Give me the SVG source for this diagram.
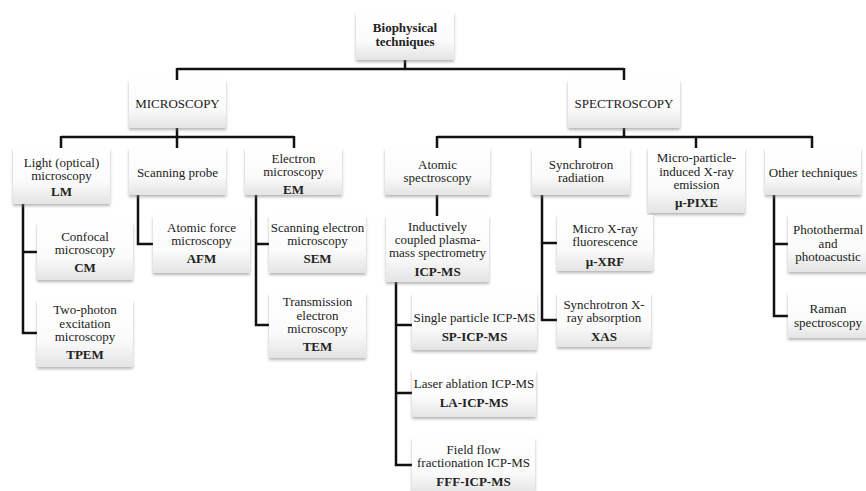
<svg xmlns="http://www.w3.org/2000/svg" width="866" height="491" viewBox="0 0 866 491" font-family="'Liberation Serif', Tinos, 'Times New Roman', 'Nimbus Roman', 'DejaVu Serif', serif">
<defs>
<linearGradient id="g" x1="0" y1="0" x2="0" y2="1">
<stop offset="0" stop-color="#ffffff"/>
<stop offset="0.6" stop-color="#fbfbfb"/>
<stop offset="1" stop-color="#e4e4e4"/>
</linearGradient>
<filter id="sh" x="-10%" y="-10%" width="120%" height="130%">
<feDropShadow dx="0" dy="2" stdDeviation="1.5" flood-color="#777" flood-opacity="0.55"/>
</filter>
</defs>
<style>
rect.b{fill:url(#g);filter:url(#sh)}
text{font-size:13px;fill:#222;text-anchor:middle}
.bd{font-weight:bold}
.c{fill:none;stroke:#111;stroke-width:2.5}
</style>
<rect width="866" height="491" fill="#fff"/>
<g id="connectors">
<path class="c" d="M405,60V69M177,69H624M177,68V80M624,68V80"/>
<path class="c" d="M177,128V137M61,137H294M61,136V148M177,136V148M294,136V148"/>
<path class="c" d="M624,128V137M437,137H812M437,136V148M580,136V148M696,136V148M812,136V148"/>
<path class="c" d="M23,204V333H37M23,252H37"/>
<path class="c" d="M138,195V244H153"/>
<path class="c" d="M256,195V325H269M256,244H269"/>
<path class="c" d="M437,195V216"/>
<path class="c" d="M396,282V465H412M396,325H412M396,393H412"/>
<path class="c" d="M542,195V320H557M542,243H557"/>
<path class="c" d="M774,195V316H788M774,244H788"/>
</g>
<g id="root"><rect class="b" x="356" y="12" width="98" height="48"/><text class="bd" x="405" y="32">Biophysical</text><text class="bd" x="405" y="46">techniques</text></g>
<g id="microscopy"><rect class="b" x="129" y="80" width="97" height="48"/><text x="177.5" y="108">MICROSCOPY</text></g>
<g id="spectroscopy"><rect class="b" x="568" y="80" width="112" height="48"/><text x="624" y="108">SPECTROSCOPY</text></g>
<g id="lm"><rect class="b" x="13" y="148" width="97" height="56"/><text x="61.5" y="167">Light (optical)</text><text x="61.5" y="180">microscopy</text><text class="bd" x="61.5" y="196">LM</text></g>
<g id="scanning-probe"><rect class="b" x="129" y="148" width="97" height="47"/><text x="177.5" y="177">Scanning probe</text></g>
<g id="em"><rect class="b" x="245" y="148" width="97" height="47"/><text x="293.5" y="163">Electron</text><text x="293.5" y="176">microscopy</text><text class="bd" x="293.5" y="194">EM</text></g>
<g id="atomic"><rect class="b" x="385" y="148" width="105" height="47"/><text x="437.5" y="169">Atomic</text><text x="437.5" y="182">spectroscopy</text></g>
<g id="synchrotron"><rect class="b" x="532" y="148" width="98" height="47"/><text x="581" y="169">Synchrotron</text><text x="581" y="182">radiation</text></g>
<g id="pixe"><rect class="b" x="648" y="148" width="97" height="65"/><text x="696.5" y="162">Micro-particle-</text><text x="696.5" y="176">induced X-ray</text><text x="696.5" y="189">emission</text><text class="bd" x="696.5" y="207">µ-PIXE</text></g>
<g id="other"><rect class="b" x="765" y="148" width="96" height="47"/><text x="813" y="177">Other techniques</text></g>
<g id="cm"><rect class="b" x="37" y="223" width="96" height="57"/><text x="85" y="241">Confocal</text><text x="85" y="254">microscopy</text><text class="bd" x="85" y="272">CM</text></g>
<g id="tpem"><rect class="b" x="37" y="300" width="96" height="67"/><text x="85" y="314">Two-photon</text><text x="85" y="328">excitation</text><text x="85" y="341">microscopy</text><text class="bd" x="85" y="359">TPEM</text></g>
<g id="afm"><rect class="b" x="153" y="216" width="97" height="57"/><text x="201.5" y="232">Atomic force</text><text x="201.5" y="245">microscopy</text><text class="bd" x="201.5" y="263">AFM</text></g>
<g id="sem"><rect class="b" x="269" y="216" width="97" height="57"/><text x="317.5" y="232">Scanning electron</text><text x="317.5" y="245">microscopy</text><text class="bd" x="317.5" y="263">SEM</text></g>
<g id="tem"><rect class="b" x="269" y="293" width="97" height="65"/><text x="317.5" y="306">Transmission</text><text x="317.5" y="320">electron</text><text x="317.5" y="333">microscopy</text><text class="bd" x="317.5" y="351">TEM</text></g>
<g id="icpms"><rect class="b" x="386" y="216" width="103" height="66"/><text x="437.5" y="231">Inductively</text><text x="437.5" y="244">coupled plasma-</text><text x="437.5" y="257">mass spectrometry</text><text class="bd" x="437.5" y="276">ICP-MS</text></g>
<g id="sp"><rect class="b" x="412" y="293" width="125" height="57"/><text x="474.5" y="322">Single particle ICP-MS</text><text class="bd" x="474.5" y="341">SP-ICP-MS</text></g>
<g id="la"><rect class="b" x="412" y="370" width="124" height="47"/><text x="474" y="388">Laser ablation ICP-MS</text><text class="bd" x="474" y="407">LA-ICP-MS</text></g>
<g id="fff"><rect class="b" x="412" y="438" width="123" height="56"/><text x="473.5" y="454">Field flow</text><text x="473.5" y="467">fractionation ICP-MS</text><text class="bd" x="473.5" y="486">FFF-ICP-MS</text></g>
<g id="xrf"><rect class="b" x="557" y="215" width="96" height="56"/><text x="605" y="233">Micro X-ray</text><text x="605" y="246">fluorescence</text><text class="bd" x="605" y="266">µ-XRF</text></g>
<g id="xas"><rect class="b" x="557" y="293" width="94" height="54"/><text x="604" y="309">Synchrotron X-</text><text x="604" y="322">ray absorption</text><text class="bd" x="604" y="341">XAS</text></g>
<g id="photothermal"><rect class="b" x="788" y="215" width="82" height="57"/><text x="828" y="234">Photothermal</text><text x="828" y="248">and</text><text x="828" y="261">photoacustic</text></g>
<g id="raman"><rect class="b" x="788" y="292" width="82" height="46"/><text x="828" y="313">Raman</text><text x="828" y="327">spectroscopy</text></g>
</svg>
